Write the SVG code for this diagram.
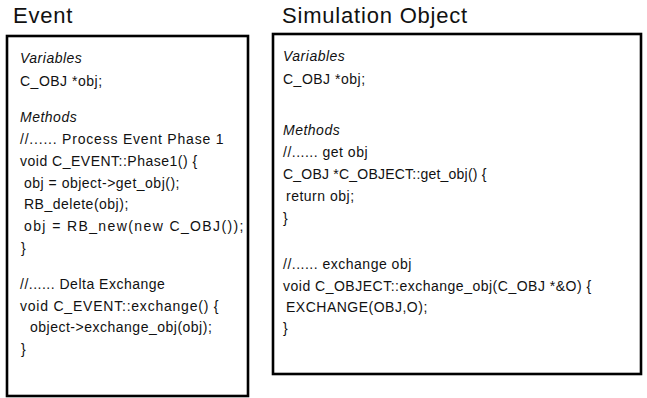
<svg xmlns="http://www.w3.org/2000/svg" width="647" height="398" viewBox="0 0 647 398">
  <style>
    .bg { fill: #ffffff; }
    .title { font-family: "Liberation Sans", Arial, sans-serif; font-size: 22px; letter-spacing: 0.8px; fill: #111; }
    .box { fill: #ffffff; stroke: #000; stroke-width: 2.6; }
    .code { font-family: "Liberation Sans", Arial, sans-serif; font-size: 14px; letter-spacing: 0.5px; fill: #111; }
    .head { font-style: italic; }
  </style>
  <rect class="bg" x="0" y="0" width="647" height="398"/>

  <!-- Event class -->
  <g id="event">
    <text class="title" x="13" y="23">Event</text>
    <rect class="box" x="7" y="36" width="241" height="360"/>
    <text class="code head" x="20" y="63">Variables</text>
    <text class="code" x="20" y="85.5">C_OBJ *obj;</text>
    <text class="code head" x="20" y="121.5">Methods</text>
    <text class="code" x="20" y="143.5" textLength="204" lengthAdjust="spacing">//...... Process Event Phase 1</text>
    <text class="code" x="20" y="165.5">void C_EVENT::Phase1() {</text>
    <text class="code" x="24" y="187.5">obj = object-&gt;get_obj();</text>
    <text class="code" x="24" y="209">RB_delete(obj);</text>
    <text class="code" x="24" y="230.5" textLength="220" lengthAdjust="spacing">obj = RB_new(new C_OBJ());</text>
    <text class="code" x="21" y="252.5">}</text>
    <text class="code" x="20" y="288.5">//...... Delta Exchange</text>
    <text class="code" x="20" y="310.5" textLength="199" lengthAdjust="spacing">void C_EVENT::exchange() {</text>
    <text class="code" x="30" y="332">object-&gt;exchange_obj(obj);</text>
    <text class="code" x="21" y="353.5">}</text>
  </g>

  <!-- Simulation Object class -->
  <g id="simulation-object">
    <text class="title" x="282" y="23">Simulation Object</text>
    <rect class="box" x="273" y="34" width="368" height="340"/>
    <text class="code head" x="283" y="60.5">Variables</text>
    <text class="code" x="283" y="83.5">C_OBJ *obj;</text>
    <text class="code head" x="283" y="134.5">Methods</text>
    <text class="code" x="283" y="156.5">//...... get obj</text>
    <text class="code" x="283" y="178.5" textLength="204" lengthAdjust="spacing">C_OBJ *C_OBJECT::get_obj() {</text>
    <text class="code" x="286" y="200.5">return obj;</text>
    <text class="code" x="283" y="222.5">}</text>
    <text class="code" x="283" y="268.5">//...... exchange obj</text>
    <text class="code" x="283" y="290.5">void C_OBJECT::exchange_obj(C_OBJ *&amp;O) {</text>
    <text class="code" x="286" y="311.5">EXCHANGE(OBJ,O);</text>
    <text class="code" x="283" y="332.5">}</text>
  </g>

  <!-- no connectors between the two classes -->
  <g id="connectors"/>
</svg>
